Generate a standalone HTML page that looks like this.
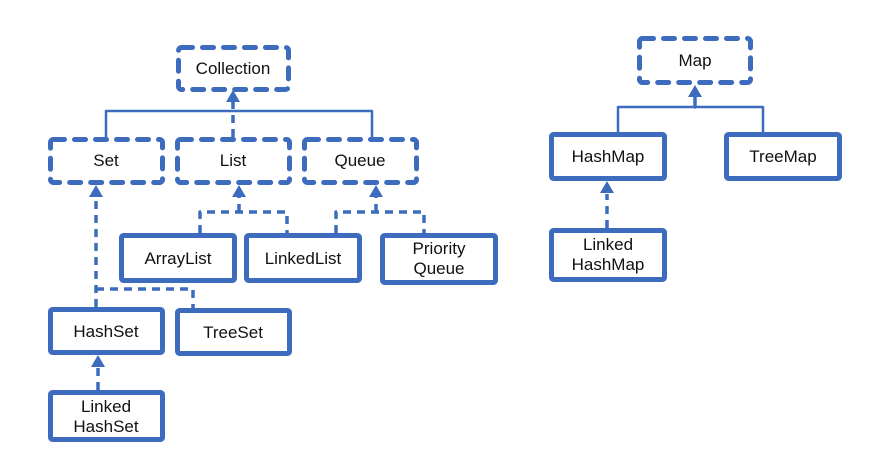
<!DOCTYPE html>
<html><head><meta charset="utf-8"><style>
html,body{margin:0;padding:0;background:#fff;}
svg{display:block}
text{font-family:"Liberation Sans","Noto Sans CJK KR",sans-serif;font-size:17px;fill:#111;text-anchor:middle}
</style></head><body>
<svg width="889" height="475" viewBox="0 0 889 475" xmlns="http://www.w3.org/2000/svg">
<g fill="none" stroke="#3d6bbd" stroke-linecap="round" stroke-linejoin="round">
<g stroke-width="5" stroke-dasharray="11 10">
<rect x="178.5" y="47.5" width="110" height="42" rx="3"/>
<rect x="50.5" y="139.5" width="112" height="43" rx="3"/>
<rect x="177.5" y="139.5" width="112" height="43" rx="3"/>
<rect x="304.5" y="139.5" width="112" height="43" rx="3"/>
<rect x="639.5" y="38.5" width="111" height="44" rx="3"/>
</g>
<g stroke-width="5" stroke-linecap="butt">
<rect x="121.5" y="235.5" width="113" height="45" rx="2"/>
<rect x="246.5" y="235.5" width="113" height="45" rx="2"/>
<rect x="382.5" y="235.5" width="113" height="47" rx="2"/>
<rect x="50.5" y="309.5" width="112" height="43" rx="2"/>
<rect x="177.5" y="310.5" width="112" height="43" rx="2"/>
<rect x="50.5" y="392.5" width="112" height="47" rx="2"/>
<rect x="551.5" y="134.5" width="113" height="44" rx="2"/>
<rect x="726.5" y="134.5" width="113" height="44" rx="2"/>
<rect x="551.5" y="230.5" width="113" height="49" rx="2"/>
</g>
<g stroke-width="2.5" stroke-linecap="butt">
<polyline points="106,137 106,111 372,111 372,137"/>
<polyline points="618,132 618,107 763,107 763,132"/>
</g>
<g stroke-width="3.5" stroke-dasharray="8 6" stroke-linecap="butt">
<line x1="233" y1="137" x2="233" y2="101"/>
<polyline points="200,233 200,212 287,212 287,233"/>
<line x1="239" y1="212" x2="239" y2="197"/>
<polyline points="336,233 336,212 424,212 424,233"/>
<line x1="376" y1="212" x2="376" y2="197"/>
<line x1="96" y1="307" x2="96" y2="198"/>
<polyline points="96,289 193,289 193,308"/>
<line x1="98" y1="390" x2="98" y2="366"/>
<line x1="607" y1="228" x2="607" y2="194"/>
</g>
<line x1="695" y1="107" x2="695" y2="96" stroke-width="3.5"/>
</g>
<g fill="#3d6bbd">
<path d="M233,90 L226,102 L240,102 z"/>
<path d="M239,185 L232,197 L246,197 z"/>
<path d="M376,185 L369,197 L383,197 z"/>
<path d="M96,185 L89,197 L103,197 z"/>
<path d="M98,355 L91,367 L105,367 z"/>
<path d="M695,85 L688,97 L702,97 z"/>
<path d="M607,181 L600,193 L614,193 z"/>
</g>
<text x="233" y="74">Collection</text>
<text x="106" y="166">Set</text>
<text x="233" y="166">List</text>
<text x="360" y="166">Queue</text>
<text x="178" y="264">ArrayList</text>
<text x="303" y="264">LinkedList</text>
<text x="439" y="254">Priority</text>
<text x="439" y="274">Queue</text>
<text x="106" y="337">HashSet</text>
<text x="233" y="338">TreeSet</text>
<text x="106" y="412">Linked</text>
<text x="106" y="432">HashSet</text>
<text x="695" y="66">Map</text>
<text x="608" y="162">HashMap</text>
<text x="783" y="162">TreeMap</text>
<text x="608" y="250">Linked</text>
<text x="608" y="270">HashMap</text>
</svg>
</body></html>
